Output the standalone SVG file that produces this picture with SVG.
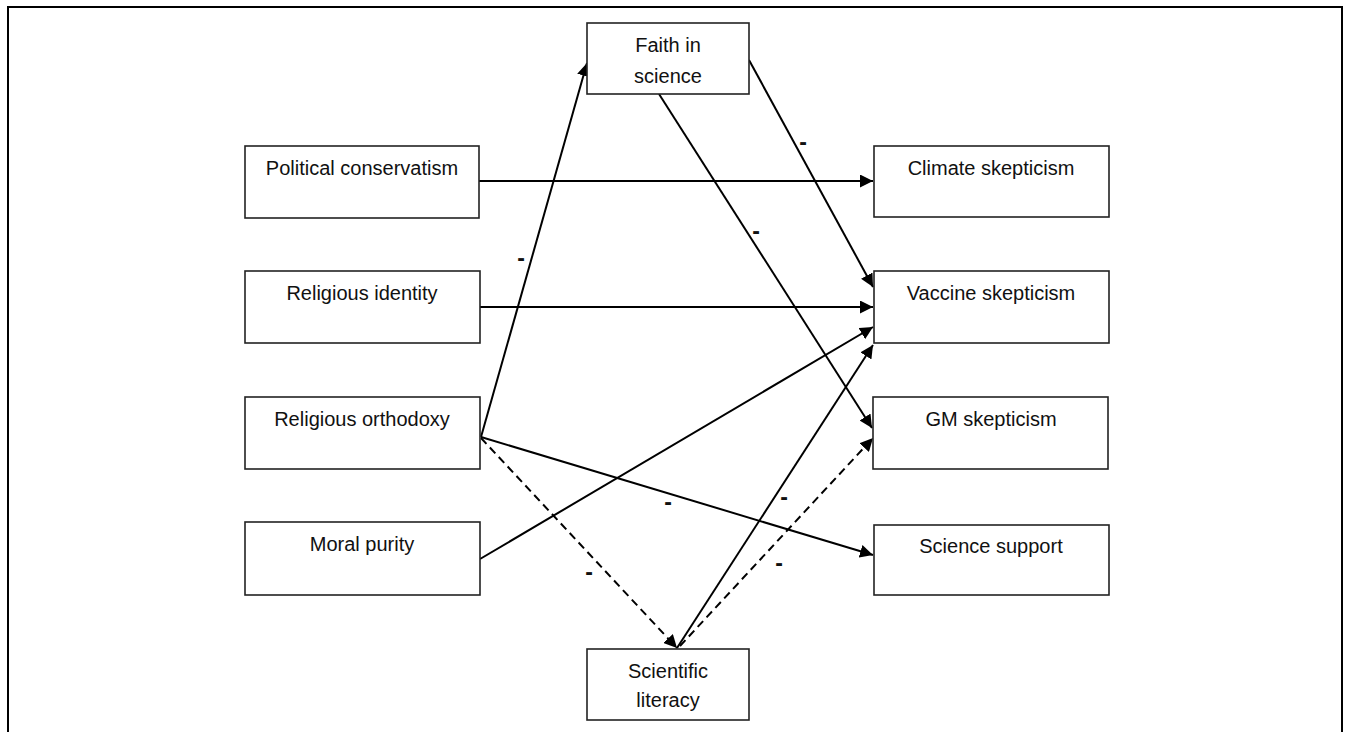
<svg xmlns="http://www.w3.org/2000/svg" width="1345" height="732" viewBox="0 0 1345 732">
<style>
.box{fill:#fff;stroke:#222;stroke-width:1.6}
.lbl{font-family:"Liberation Sans",Arial,sans-serif;font-size:20px;fill:#111;text-anchor:middle}
.sign{font-family:"Liberation Sans",Arial,sans-serif;font-size:23px;font-weight:bold;fill:#111;text-anchor:middle}
.edge{stroke:#000;stroke-width:2;fill:none;marker-end:url(#arr)}
.dash{stroke-dasharray:8,5}
</style>
<defs>
<marker id="arr" markerUnits="userSpaceOnUse" markerWidth="14" markerHeight="13" refX="13" refY="6.5" orient="auto">
<path d="M0,0 L13,6.5 L0,13 z" fill="#000"/>
</marker>
</defs>
<rect x="8" y="7" width="1334" height="800" fill="#fff" stroke="#000" stroke-width="2"/>
<g id="connectors">
<line class="edge" x1="479" y1="181" x2="873" y2="181"/>
<line class="edge" x1="480" y1="307" x2="873" y2="307"/>
<line class="edge" x1="481" y1="437" x2="587" y2="63"/>
<line class="edge" x1="481" y1="437" x2="873" y2="555"/>
<line class="edge dash" x1="481" y1="438" x2="677" y2="648"/>
<line class="edge" x1="480" y1="559" x2="873" y2="327"/>
<line class="edge" x1="749" y1="60" x2="873" y2="287"/>
<line class="edge" x1="659" y1="94" x2="872" y2="428"/>
<line class="edge" x1="677" y1="648" x2="873" y2="345"/>
<line class="edge dash" x1="680" y1="646" x2="873" y2="438"/>
<text class="sign" x="521" y="266">-</text>
<text class="sign" x="803" y="150">-</text>
<text class="sign" x="756" y="239">-</text>
<text class="sign" x="668" y="510">-</text>
<text class="sign" x="589" y="580">-</text>
<text class="sign" x="784" y="505">-</text>
<text class="sign" x="779" y="571">-</text>
</g>
<g id="faith"><rect class="box" x="587" y="23" width="162" height="71"/><text class="lbl" x="668" y="52">Faith in</text><text class="lbl" x="668" y="83">science</text></g>
<g id="political"><rect class="box" x="245" y="146" width="234" height="72"/><text class="lbl" x="362" y="175">Political conservatism</text></g>
<g id="religid"><rect class="box" x="245" y="271" width="235" height="72"/><text class="lbl" x="362" y="300">Religious identity</text></g>
<g id="orthodoxy"><rect class="box" x="245" y="397" width="235" height="72"/><text class="lbl" x="362" y="426">Religious orthodoxy</text></g>
<g id="moral"><rect class="box" x="245" y="522" width="235" height="73"/><text class="lbl" x="362" y="551">Moral purity</text></g>
<g id="climate"><rect class="box" x="874" y="146" width="235" height="71"/><text class="lbl" x="991" y="175">Climate skepticism</text></g>
<g id="vaccine"><rect class="box" x="874" y="271" width="235" height="72"/><text class="lbl" x="991" y="300">Vaccine skepticism</text></g>
<g id="gm"><rect class="box" x="873" y="397" width="235" height="72"/><text class="lbl" x="991" y="426">GM skepticism</text></g>
<g id="support"><rect class="box" x="874" y="525" width="235" height="70"/><text class="lbl" x="991" y="553">Science support</text></g>
<g id="scilit"><rect class="box" x="587" y="649" width="162" height="71"/><text class="lbl" x="668" y="678">Scientific</text><text class="lbl" x="668" y="707">literacy</text></g>
</svg>
